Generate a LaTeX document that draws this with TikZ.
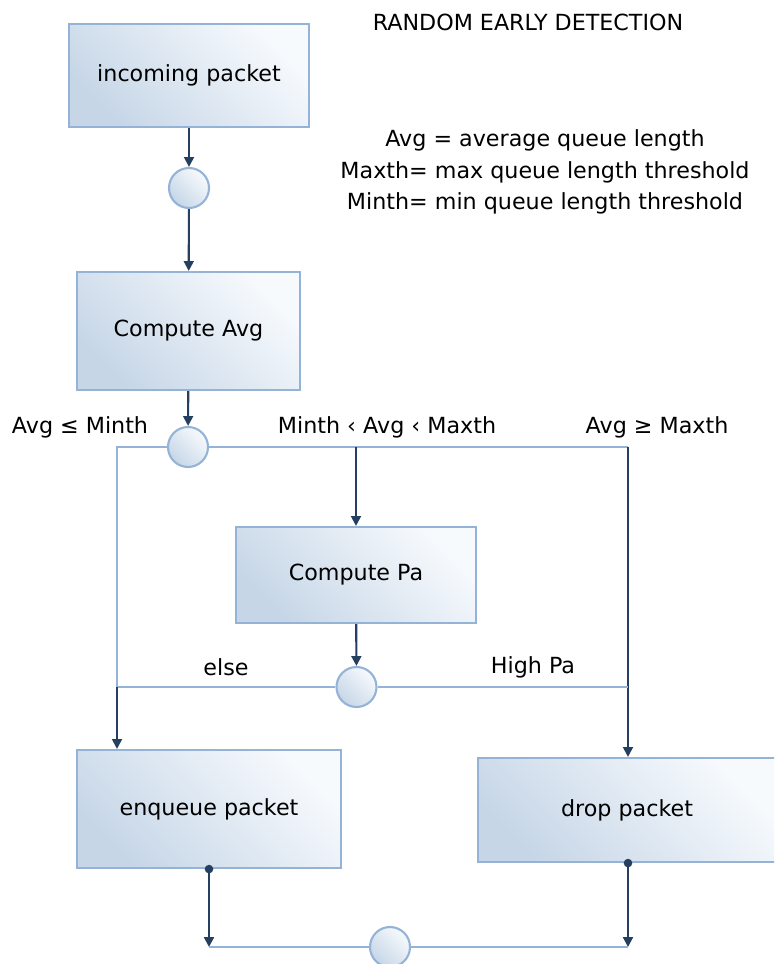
\documentclass[tikz,border=0pt]{standalone}
\usepackage{fontspec}
\setmainfont{DejaVu Sans}
\usetikzlibrary{arrows.meta,positioning}

\definecolor{edgeblue}{HTML}{95B3D7}
\definecolor{navy}{HTML}{243F60}
\definecolor{fillhi}{HTML}{F7FAFD}
\definecolor{filllo}{HTML}{C6D6E7}

\tikzset{
    block/.style={rectangle, draw=edgeblue, line width=1.5pt, bottom color=filllo, top color=fillhi, shading angle=-45},
    joint/.style={circle, draw=edgeblue, line width=1.5pt, minimum size=1cm, inner sep=0pt, bottom color=filllo, top color=fillhi, shading angle=-45},
    flow/.style={draw=navy, line width=1.5pt, -{Triangle[length=7pt,width=7pt]}},
    dotflow/.style={flow, {Circle[length=6pt]}-{Triangle[length=7pt,width=7pt]}, shorten <=-3pt},
    wire/.style={draw=edgeblue, line width=1.5pt}
}

\begin{document}
\begin{tikzpicture}[x=0.025cm, y=-0.025cm, font=\fontsize{15.8}{19}\selectfont]
        \clip (0,0) rectangle (774,964);
        % main blocks
        \node[block, minimum width=6cm, minimum height=2.575cm] (incoming) at (189,75.5) {incoming packet};
        \node[block, minimum width=5.575cm, minimum height=2.95cm] (avg) at (188.5,331) {Compute Avg};
        \node[block, minimum width=6cm, minimum height=2.4cm] (pa) at (356,575) {Compute Pa};
        \node[block, minimum width=6.6cm, minimum height=2.95cm] (enqueue) at (209,809) {enqueue packet};
        \node[block, minimum width=7.45cm, minimum height=2.6cm] (drop) at (627,810) {drop packet};
        % junctions
        \node[joint] (c1) at (189,188) {};
        \node[joint] (c2) at (188,447) {};
        \node[joint] (c3) at (356.5,687) {};
        \node[joint] (c4) at (390,947) {};
        \coordinate (lowfork) at (117,447);
        \coordinate (elsefork) at (117,687);
        \coordinate (highfork) at (628,447);
        \coordinate (padrop) at (628,687);
        % texts
        \node (title) at (528,22) {RANDOM EARLY DETECTION};
        \node[align=center, font=\fontsize{15.8}{22.4}\selectfont] (legend) at (545,172) {Avg = average queue length\\ Maxth= max queue length threshold\\ Minth= min queue length threshold};
        \node (low) at (80,427) {Avg ≤ Minth};
        \node (mid) at (387,427) {Minth ‹ Avg ‹ Maxth};
        \node (high) at (657,427) {Avg ≥ Maxth};
        \node (else) at (226,667) {else};
        \node (highpa) at (533,667) {High Pa};
        % connectors
        \draw[flow] (incoming) -- (c1);
        \draw[flow] (c1) -- (avg);
        \draw[flow] (avg) -- (c2);
        \draw[wire] (c2) -- (lowfork) -- (elsefork);
        \draw[wire] (c2) -- (highfork);
        \draw[flow] (c2 -| pa.north) -- (pa.north);
        \draw[flow] (highfork) -- (drop.north -| highfork);
        \draw[flow] (pa) -- (c3);
        \draw[wire] (c3) -- (elsefork);
        \draw[wire] (c3) -- (padrop);
        \draw[flow] (elsefork) -- (enqueue.north -| elsefork);
        \draw[dotflow] (enqueue.south) -- (enqueue.south |- c4);
        \draw[dotflow] (drop.south -| highfork) -- (c4 -| highfork);
        \draw[wire] (enqueue.south |- c4) -- (c4);
        \draw[wire] (c4) -- (c4 -| highfork);
    \end{tikzpicture}
\end{document}
